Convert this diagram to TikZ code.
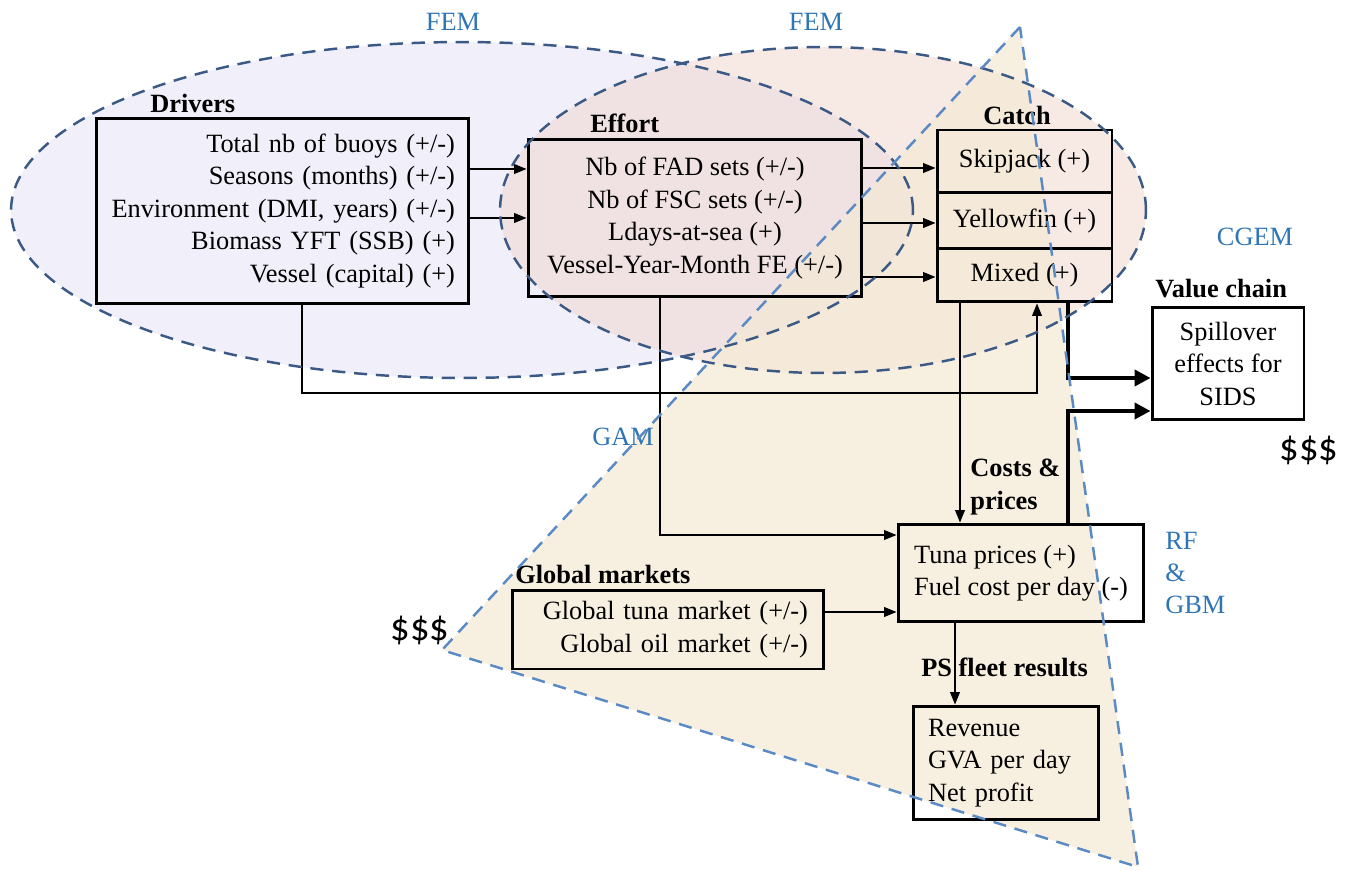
\documentclass[tikz,border=0pt]{standalone}
\usepackage{fontspec}
\setmainfont{Liberation Serif}
\newfontfamily\dollarfont{Carlito}
\usetikzlibrary{arrows.meta}
\definecolor{ellline}{HTML}{3A5A85}
\definecolor{triline}{HTML}{5A8AC4}
\definecolor{lblblue}{HTML}{2E75B6}
\definecolor{lavfill}{HTML}{F0EFFA}
\definecolor{pinkfill}{HTML}{F0D6CC}
\definecolor{beigefill}{HTML}{F4E9D4}
\begin{document}
\begin{tikzpicture}[x=0.02cm,y=-0.02cm,
  txt/.style={font=\fontsize{15}{18.5}\selectfont},
  box/.style={draw, line width=1.7pt, inner sep=0pt, txt},
  hdr/.style={font=\fontsize{15}{18}\selectfont\bfseries, inner sep=0pt, anchor=west},
  model/.style={text=lblblue, font=\fontsize{15}{18}\selectfont, inner sep=0pt},
  arr/.style={line width=0.8pt, -{Triangle[length=7pt,width=5.5pt]}},
  bigarr/.style={line width=2.8pt, -{Triangle[length=9pt,width=9pt]}},
  ell/.style={draw=ellline, line width=1.4pt, dash pattern=on 7.5pt off 5pt},
  tri/.style={draw=triline, line width=1.4pt, dash pattern=on 7.5pt off 5pt},
  money/.style={font=\dollarfont\fontsize{22}{26}\selectfont, inner sep=0pt}]
\useasboundingbox (0,0) rectangle (1346,871);
% background fills
\fill[lavfill] (462,210) ellipse [x radius=9.02cm, y radius=3.36cm];
\fill[pinkfill, fill opacity=0.5] (823,210) ellipse [x radius=6.46cm, y radius=3.26cm];
\fill[beigefill, fill opacity=0.7] (1020,27) -- (442,650) -- (1138,867) -- cycle;

% boxes
\node[box, minimum width=7.46cm, minimum height=3.72cm, text width=6.9cm, align=right] (drv) at (282.5,211)
  {Total nb of buoys (+/-)\\Seasons (months) (+/-)\\Environment (DMI, years) (+/-)\\Biomass YFT (SSB) (+)\\Vessel (capital) (+)};
\node[box, minimum width=6.68cm, minimum height=3.16cm, align=center] (eff) at (695,218)
  {Nb of FAD sets (+/-)\\Nb of FSC sets (+/-)\\Ldays-at-sea (+)\\Vessel-Year-Month FE (+/-)};
\node[box, minimum width=3.5cm, minimum height=1.26cm] (skip) at (1024.5,161.5) {Skipjack (+)};
\node[box, minimum width=3.5cm, minimum height=1.12cm] (yel) at (1024.5,221) {Yellowfin (+)};
\node[box, minimum width=3.5cm, minimum height=1.06cm] (mix) at (1024.5,275.5) {Mixed (+)};
\node[box, minimum width=3.04cm, minimum height=2.26cm, align=center] (val) at (1228,363.5)
  {Spillover\\effects for\\SIDS};
\node[box, minimum width=4.92cm, minimum height=1.96cm, align=left] (cost) at (1021,573)
  {Tuna prices (+)\\Fuel cost per day (-)};
\node[box, minimum width=6.24cm, minimum height=1.58cm, text width=5.6cm, align=right] (glob) at (668,629.5)
  {Global tuna market (+/-)\\Global oil market (+/-)};
\node[box, minimum width=3.72cm, minimum height=2.28cm, text width=3.12cm, align=left] (res) at (1006,763)
  {Revenue\\GVA per day\\Net profit};

% headers
\node[hdr] (hdrv) at (150,103) {Drivers};
\node[hdr] (heff) at (590,123) {Effort};
\node[hdr] (hcat) at (983,115) {Catch};
\node[hdr] (hval) at (1155,289) {Value chain};
\node[hdr, align=left, font=\fontsize{15}{18.5}\selectfont\bfseries] (hcost) at (970,487) {Costs \&\\prices};
\node[hdr] (hglob) at (515,574) {Global markets};
\node[hdr] (hres) at (921,667) {PS fleet results};

% model labels
\node[model] (fem1) at (453,22) {FEM};
\node[model] (fem2) at (816,22) {FEM};
\node[model] (cgem) at (1255,237) {CGEM};
\node[model] (gam) at (623,437) {GAM};
\node[model, anchor=west, align=left, font=\fontsize{15}{18}\selectfont] (rf) at (1165,573) {RF\\\&\\GBM};
\node[money] (m1) at (1309,450) {\$\$\$};
\node[money] (m2) at (420,630) {\$\$\$};

% connectors
\draw[arr] (drv.east |- 0,169) -- (eff.west |- 0,169);
\draw[arr] (drv.east |- 0,218) -- (eff.west |- 0,218);
\draw[arr] (eff.east |- 0,168) -- (skip.west |- 0,168);
\draw[arr] (eff.east |- 0,223) -- (yel.west |- 0,223);
\draw[arr] (eff.east |- 0,277) -- (mix.west |- 0,277);
\draw[arr] (302,0 |- drv.south) -- (302,393) -- (1037,393) -- (1037,0 |- mix.south);
\draw[arr] (660,0 |- eff.south) -- (660,535) -- (cost.west |- 0,535);
\draw[arr] (960,0 |- mix.south) -- (960,0 |- cost.north);
\draw[arr] (glob.east |- 0,612) -- (cost.west |- 0,612);
\draw[arr] (955,0 |- cost.south) -- (955,0 |- res.north);
\draw[bigarr] (1068,0 |- mix.south) -- (1068,378) -- (val.west |- 0,378);
\draw[bigarr] (1068,0 |- cost.north) -- (1068,411) -- (val.west |- 0,411);

% dashed outlines
\draw[ell] (462,210) ellipse [x radius=9.02cm, y radius=3.36cm];
\draw[ell] (823,210) ellipse [x radius=6.46cm, y radius=3.26cm];
\draw[tri] (1020,27) -- (442,650) -- (1138,867) -- cycle;
\end{tikzpicture}
\end{document}
